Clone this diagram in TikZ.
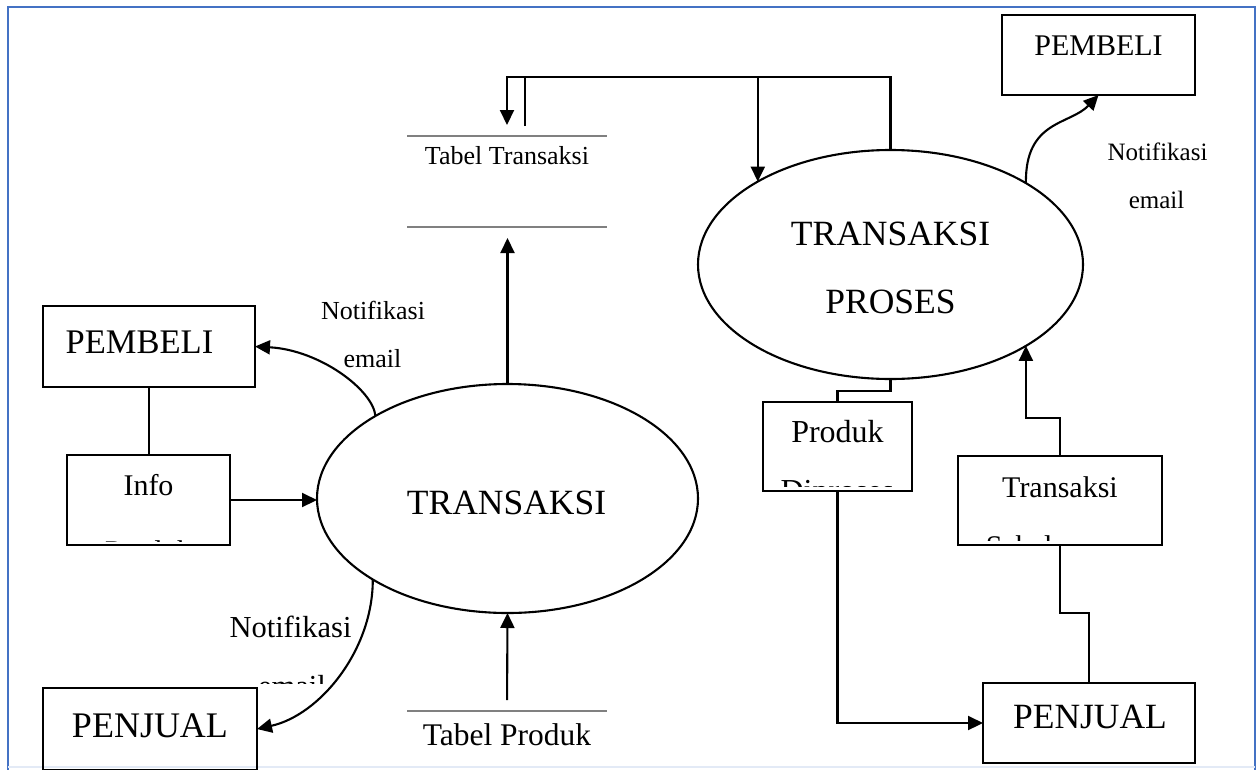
\documentclass[tikz,border=0pt]{standalone}
\usepackage{fontspec}
\setmainfont{Liberation Serif}
\usetikzlibrary{shapes.geometric,arrows.meta,calc}
\newcommand\fsz[1]{\fontsize{#1}{#1}\selectfont}
\definecolor{frameblue}{HTML}{4472C4}
\definecolor{storegray}{HTML}{808080}

\begin{document}
\begin{tikzpicture}[x=1pt,y=-1pt,
  line width=2.1pt,
  every node/.style={inner sep=0pt, outer sep=0pt},
  entity/.style={draw, rectangle, line width=2.1pt},
  proc/.style={draw, ellipse, line width=2.1pt},
  flow/.style={-{Triangle[length=15pt,width=14pt]}},
  storeline/.style={draw=storegray, line width=2.2pt},
  lbl/.style={anchor=base},
]
\useasboundingbox (0,0) rectangle (1260,769);

% page frame
\draw[frameblue, line width=2.4pt] (8,780) -- (8,7) -- (1255,7) -- (1255,780);
\draw[frameblue!15, line width=1.5pt] (8,767) -- (1255,767);

% external entities
\node[entity, minimum width=193pt, minimum height=80pt] (pembeliA) at (1098.5,55) {};
\node[lbl, font=\fsz{30}] (pembeliAt) at ($(pembeliA.north)+(0,40)$) {PEMBELI};

\node[entity, minimum width=212pt, minimum height=81pt] (pembeliB) at (149,346.5) {};
\node[lbl, font=\fsz{34.5}] (pembeliBt) at ($(pembeliB.north)+(-9.5,47)$) {PEMBELI};

\node[entity, minimum width=214pt, minimum height=82pt] (penjualA) at (150,729) {};
\node[lbl, font=\fsz{36}] (penjualAt) at ($(penjualA.north)+(0,49)$) {PENJUAL};

\node[entity, minimum width=212pt, minimum height=80pt] (penjualB) at (1089,723) {};
\node[lbl, font=\fsz{35.5}] (penjualBt) at ($(penjualB.north)+(1,45)$) {PENJUAL};

% data boxes whose second line is cut off by the box
\node[entity, minimum width=163pt, minimum height=90pt] (info) at (148.5,500) {};
\node[lbl, font=\fsz{30}] (infoA) at ($(info.north)+(0,40)$) {Info};
\begin{scope}
  \clip (info.north west) rectangle ($(info.south east)+(0,-4)$);
  \node[lbl, font=\fsz{30}] (infoB) at ($(info.north)+(0,106)$) {Produk};
\end{scope}

\node[entity, minimum width=149pt, minimum height=89pt] (produk) at (837.5,446.5) {};
\node[lbl, font=\fsz{32}] (produkA) at ($(produk.north)+(0,40)$) {Produk};
\begin{scope}
  \clip (produk.north west) rectangle ($(produk.south east)+(0,-5)$);
  \node[lbl, font=\fsz{32}] (produkB) at ($(produk.north)+(0,99)$) {Diproses};
\end{scope}

\node[entity, minimum width=204pt, minimum height=89pt] (tsb) at (1060,500.5) {};
\node[lbl, font=\fsz{30}] (tsbA) at ($(tsb.north)+(0,41)$) {Transaksi};
\begin{scope}
  \clip (tsb.north west) rectangle ($(tsb.south east)+(0,-5)$);
  \node[lbl, font=\fsz{30}] (tsbB) at ($(tsb.north)+(0,100)$) {Sebelumnya};
\end{scope}

% processes
\node[proc, minimum width=381pt, minimum height=229pt] (trans) at (507.5,498.5) {};
\node[lbl, font=\fsz{35.5}] (transt) at ($(trans.center)+(-1,15.5)$) {TRANSAKSI};

\node[proc, minimum width=385pt, minimum height=229pt] (proses) at (890.5,264.5) {};
\node[lbl, font=\fsz{35.5}] (prosesA) at ($(proses.center)+(0,-19.5)$) {TRANSAKSI};
\node[lbl, font=\fsz{35.5}] (prosesB) at ($(proses.center)+(0,48.5)$) {PROSES};

% data stores
\node[minimum width=200pt, minimum height=91pt] (tt) at (507,181.5) {};
\draw[storeline] (tt.north west) -- (tt.north east);
\draw[storeline] (tt.south west) -- (tt.south east);
\node[lbl, font=\fsz{26}] (ttt) at ($(tt.north)+(0,28)$) {Tabel Transaksi};

\node[minimum width=200pt, minimum height=91pt] (tp) at (507,756.5) {};
\draw[storeline] (tp.north west) -- (tp.north east);
\node[lbl, font=\fsz{31.5}] (tpt) at ($(tp.north)+(0,34)$) {Tabel Produk};

% flows around TRANSAKSI
\draw (pembeliB.south) -- (pembeliB.south |- info.north);
\draw[flow] (info.east) -- (info.east -| trans.west);
\draw[flow, shorten >=11pt] (trans.north) -- (trans.north |- tt.south);
\draw[flow, shorten <=11pt] (tp.north) -- (trans.south);

\draw[flow] (trans.148.9) .. controls (373,390) and (320,350) .. (pembeliB.east);
\node[lbl, font=\fsz{26}] (n1a) at (373,319) {Notifikasi};
\node[lbl, font=\fsz{26}] (n1b) at (372.5,367) {email};

\draw[flow] (trans.211.1) .. controls (373,650) and (320,715) .. (penjualA.east);
\node[lbl, font=\fsz{30.5}] (n2a) at (290.5,637) {Notifikasi};
\begin{scope}
  \clip (200,600) rectangle (370,683);
  \node[lbl, font=\fsz{30.5}] (n2b) at (292,696) {email};
\end{scope}

% flows around TRANSAKSI PROSES
\coordinate (bus) at (0,77);
\coordinate (stub) at (525,126);
\draw[flow, shorten >=11pt] (proses.north) -- (proses.north |- bus) -| (tt.north);
\draw (stub) -- (stub |- bus);
\draw[flow] (proses.148.66 |- bus) -- (proses.148.66);

\draw (proses.south) -- ++(0,12) -| (produk.north);
\draw[flow] (produk.south) |- (penjualB.west);
\draw (penjualB.north) -- ++(0,-70) -| (tsb.south);
\draw[flow] (tsb.north) -- ++(0,-38) -| (proses.-31);

\draw[flow] (proses.31.2) .. controls (1025,120) and (1070,125) .. (pembeliA.south);
\node[lbl, font=\fsz{25}] (n3a) at (1157.5,160) {Notifikasi};
\node[lbl, font=\fsz{25}] (n3b) at (1156.5,208) {email};

\end{tikzpicture}
\end{document}
